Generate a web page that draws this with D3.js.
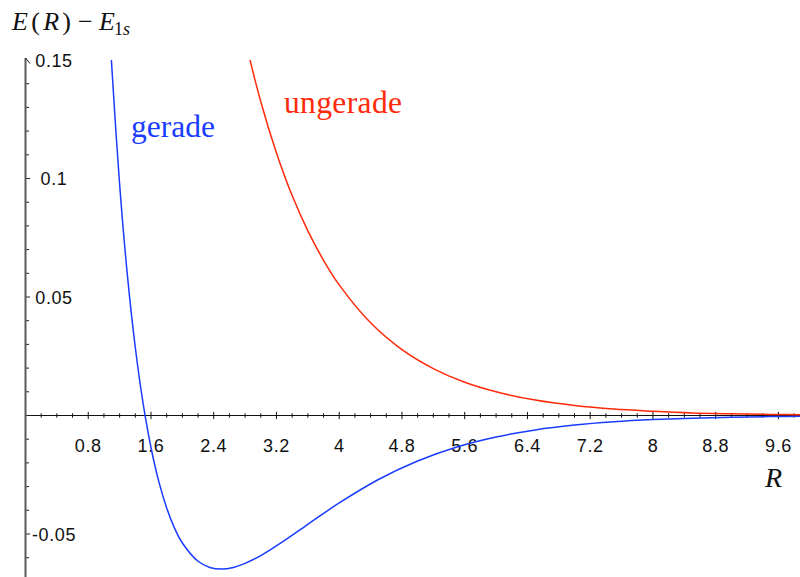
<!DOCTYPE html>
<html>
<head>
<meta charset="utf-8">
<script src="https://cdn.jsdelivr.net/npm/d3@7"></script>
<style>
  html, body { margin: 0; padding: 0; background: #fff; }
  svg { display: block; }
</style>
</head>
<body>
<svg id="chart" width="800" height="577"></svg>
<script>
// H2+ LCAO energies relative to the separated-atom 1s level (hartree) vs. internuclear distance R (bohr)
const geradeR = [1.0, 1.05, 1.1, 1.2, 1.3, 1.4, 1.5, 1.6, 1.7, 1.8, 1.9, 2.0, 2.2, 2.35, 2.5, 2.65, 2.8, 3.0, 3.3, 3.6, 4.0, 4.5, 5.0, 5.5, 6.0, 6.5, 7.0, 7.5, 8.0, 8.5, 9.0, 9.5, 10.0];
const geradeE = [0.2116, 0.1774, 0.1473, 0.0976, 0.0589, 0.0287, 0.0050, -0.0135, -0.0279, -0.0390, -0.0475, -0.0538, -0.0615, -0.0641, -0.0648, -0.0641, -0.0624, -0.0591, -0.0528, -0.0459, -0.0369, -0.0270, -0.0192, -0.0133, -0.00907, -0.00608, -0.00403, -0.00265, -0.00173, -0.00112, -0.00072, -0.00046, -0.00030];

const ungeradeR = [2.7, 2.8, 3.0, 3.2, 3.4, 3.6, 3.8, 4.0, 4.4, 4.8, 5.2, 5.6, 6.0, 6.5, 7.0, 7.5, 8.0, 8.5, 9.0, 9.5, 10.0];
const ungeradeE = [0.1739, 0.1587, 0.1324, 0.1108, 0.0928, 0.0779, 0.0655, 0.0551, 0.0391, 0.0278, 0.0198, 0.0140, 0.0100, 0.0065, 0.0042, 0.0027, 0.0018, 0.0011, 0.00073, 0.00047, 0.00030];

const xTickLabels = ["0.8", "1.6", "2.4", "3.2", "4", "4.8", "5.6", "6.4", "7.2", "8", "8.8", "9.6"];
const yTickLabels = ["0.15", "0.1", "0.05", "-0.05"];

const BLUE = "#1a3cff";
const RED = "#ff2a0a";
const SERIF = "'Liberation Serif', 'Times New Roman', serif";
const SANS = "'Liberation Sans', Arial, sans-serif";

const svg = d3.select("#chart");
const W = 800, H = 577;

const x = d3.scaleLinear().domain([0, 9.875]).range([25.5, 800]);
const y = d3.scaleLinear().domain([0, 0.15]).range([415.5, 60]);

// clip region for the curves
svg.append("defs").append("clipPath").attr("id", "plot")
  .append("rect").attr("x", x(0)).attr("y", y(0.15)).attr("width", W - x(0)).attr("height", H - y(0.15));

// x axis (through E = 0)
const xMinor = d3.range(1, 50).map(i => i * 0.2);
const xAxisG = svg.append("g");
xAxisG.append("line")
  .attr("x1", x(0)).attr("x2", W).attr("y1", y(0)).attr("y2", y(0))
  .attr("stroke", "#111").attr("stroke-width", 1);
xAxisG.selectAll("line.minor").data(xMinor.filter(v => Math.abs(v / 0.8 - Math.round(v / 0.8)) > 1e-6))
  .join("line").attr("class", "minor")
  .attr("x1", d => x(d)).attr("x2", d => x(d))
  .attr("y1", y(0) - 2.2).attr("y2", y(0) + 2.2)
  .attr("stroke", "#111").attr("stroke-width", 1);
xAxisG.selectAll("line.major").data(xTickLabels)
  .join("line").attr("class", "major")
  .attr("x1", d => x(+d)).attr("x2", d => x(+d))
  .attr("y1", y(0) - 3.6).attr("y2", y(0) + 3.6)
  .attr("stroke", "#111").attr("stroke-width", 1);
xAxisG.selectAll("text").data(xTickLabels)
  .join("text")
  .attr("x", d => x(+d)).attr("y", y(0) + 36)
  .attr("text-anchor", "middle")
  .attr("font-family", SANS)
  .attr("font-size", 18).attr("letter-spacing", "0.6px")
  .attr("fill", "#111")
  .text(d => d);

// y axis
const yAxisG = svg.append("g");
const yMinor = d3.range(-6, 15).map(i => i / 100);
yAxisG.selectAll("line.tick").data(yMinor)
  .join("line").attr("class", "tick")
  .attr("x1", x(0)).attr("x2", d => x(0) + (Math.abs(d * 20 - Math.round(d * 20)) < 1e-6 ? 4.5 : 3.5))
  .attr("y1", d => y(d)).attr("y2", d => y(d))
  .attr("stroke", "#222").attr("stroke-width", 1);
yAxisG.append("line")
  .attr("x1", x(0)).attr("x2", x(0)).attr("y1", 58).attr("y2", H)
  .attr("stroke", "#5a5a5a").attr("stroke-width", 2);
yAxisG.append("path")
  .attr("d", `M${x(0)},${58} L${x(0) + 4.5},${63.5}`)
  .attr("fill", "none").attr("stroke", "#222").attr("stroke-width", 1);
yAxisG.selectAll("text").data(yTickLabels)
  .join("text")
  .attr("x", 54).attr("y", d => y(+d) + 6.5)
  .attr("text-anchor", "middle")
  .attr("font-family", SANS)
  .attr("font-size", 18).attr("letter-spacing", "0.6px")
  .attr("fill", "#111")
  .text(d => d);

// curves
const line = d3.line()
  .x(d => x(d[0])).y(d => y(d[1]))
  .curve(d3.curveCatmullRom.alpha(0.5));

const curves = svg.append("g").attr("clip-path", "url(#plot)");
curves.append("path")
  .datum(geradeR.map((r, i) => [r, geradeE[i]]))
  .attr("d", line).attr("fill", "none").attr("stroke", BLUE).attr("stroke-width", 1.5);
curves.append("path")
  .datum(ungeradeR.map((r, i) => [r, ungeradeE[i]]))
  .attr("d", line).attr("fill", "none").attr("stroke", RED).attr("stroke-width", 1.5);

// curve labels
svg.append("text")
  .attr("x", 131).attr("y", 137)
  .attr("font-family", SERIF)
  .attr("font-size", 31.5).attr("fill", BLUE)
  .text("gerade");
svg.append("text")
  .attr("x", 284).attr("y", 113)
  .attr("font-family", SERIF)
  .attr("font-size", 31.5).attr("fill", RED)
  .attr("textLength", 118).attr("lengthAdjust", "spacing")
  .text("ungerade");

// axis titles
const title = svg.append("g")
  .attr("font-family", SERIF).attr("font-size", 26).attr("fill", "#111");
const lhs = title.append("text").attr("x", 12).attr("y", 30)
  .attr("textLength", 59).attr("lengthAdjust", "spacing");
lhs.append("tspan").attr("font-style", "italic").text("E");
lhs.append("tspan").text("(");
lhs.append("tspan").attr("font-style", "italic").text("R");
lhs.append("tspan").text(")");
title.append("text").attr("x", 78).attr("y", 30).text("\u2212");
const rhs = title.append("text").attr("x", 99).attr("y", 30);
rhs.append("tspan").attr("font-style", "italic").text("E");
rhs.append("tspan").attr("font-size", 18).attr("dy", 5).attr("dx", -1).text("1");
rhs.append("tspan").attr("font-size", 18).attr("font-style", "italic").text("s");

svg.append("text")
  .attr("x", 765).attr("y", 487)
  .attr("font-family", SERIF)
  .attr("font-style", "italic")
  .attr("font-size", 28).attr("fill", "#111")
  .text("R");
</script>
</body>
</html>
